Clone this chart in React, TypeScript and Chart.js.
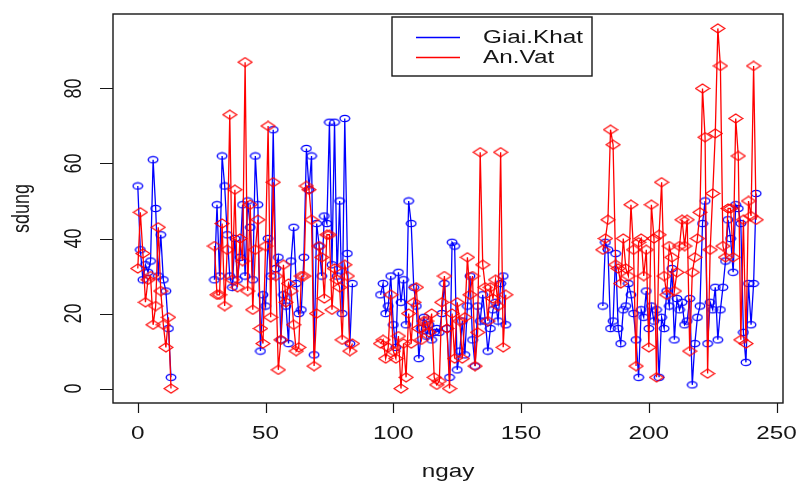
import React, { useEffect, useRef } from "react";
import { Chart, registerables } from "chart.js";

Chart.register(...registerables);

// ---- data (day index "ngay", value "sdung") ----
const segmentStarts = [0, 30, 95, 182];

const giaiKhat1 = [54, 37, 29, 33, 31, 34, 61, 48, 30, 41, 29, 26, 16, 3];
const giaiKhat2 = [29, 49, 30, 62, 54, 41, 30, 27, 40, 29, 35, 49, 30, 50, 43, 29, 62, 49, 10, 25, 22, 40, 30, 69, 32, 35, 13, 25, 22, 12, 34, 43, 28, 20, 21, 35, 64, 53, 62, 9, 44, 38, 30, 46, 44, 71, 33, 71, 30, 50, 20, 72, 36, 12, 28];
const giaiKhat3 = [25, 28, 20, 22, 30, 17, 11, 31, 23, 29, 17, 50, 44, 27, 22, 8, 16, 19, 14, 17, 13, 15, 16, 15, 20, 28, 16, 3, 39, 38, 5, 10, 18, 9, 22, 30, 13, 6, 22, 18, 25, 18, 10, 16, 21, 23, 18, 28, 30, 17];
const giaiKhat4 = [22, 39, 37, 16, 18, 36, 16, 12, 21, 22, 28, 25, 20, 13, 3, 21, 19, 26, 16, 22, 18, 21, 3, 19, 16, 26, 22, 32, 13, 24, 21, 23, 17, 18, 24, 1, 12, 19, 22, 44, 50, 12, 23, 21, 27, 13, 21, 27, 34, 45, 40, 31, 49, 48, 44, 15, 7, 28, 17, 28, 52];

const anVat1 = [32, 47, 36, 23, 29, 30, 17, 22, 43, 26, 17, 11, 19, 0];
const anVat2 = [38, 25, 25, 44, 22, 37, 73, 29, 53, 27, 40, 34, 87, 26, 49, 21, 37, 45, 16, 12, 38, 70, 19, 55, 30, 5, 13, 33, 23, 28, 26, 17, 10, 11, 30, 30, 54, 53, 45, 6, 20, 38, 35, 24, 41, 41, 21, 32, 29, 27, 13, 33, 30, 10, 12];
const anVat3 = [12, 13, 8, 11, 25, 10, 8, 14, 0, 12, 3, 20, 12, 23, 27, 16, 13, 18, 18, 15, 20, 3, 1, 2, 23, 30, 16, 0, 20, 8, 23, 18, 8, 19, 35, 25, 30, 6, 15, 63, 33, 27, 18, 27, 24, 29, 22, 63, 11, 25];
const anVat4 = [37, 40, 45, 69, 65, 33, 32, 28, 40, 32, 30, 49, 37, 6, 39, 40, 30, 37, 11, 49, 40, 3, 41, 55, 30, 25, 38, 35, 26, 31, 38, 45, 38, 45, 10, 31, 35, 40, 47, 80, 67, 4, 37, 52, 68, 96, 86, 38, 35, 48, 48, 35, 72, 62, 13, 45, 12, 50, 46, 86, 45];

const seriesNames = ["Giai.Khat", "An.Vat"];
const xTicks = [0, 50, 100, 150, 200, 250];
const yTicks = [0, 20, 40, 60, 80];
const xTitle = "ngay";
const yTitle = "sdung";

const BLUE = "#0000ff";
const RED = "#ff0000";
const INK = "#161616";
const FONT = '18px "Liberation Sans", Arial, sans-serif';
const STRETCH = 1.35;

function buildPoints(segs: number[][]) {
  const pts: { x: number; y: number | null }[] = [];
  segs.forEach((seg, si) => {
    const start = segmentStarts[si];
    if (si > 0) pts.push({ x: start - 1, y: null });
    seg.forEach((v, i) => pts.push({ x: start + i, y: v }));
  });
  return pts;
}

function makeCircle(color: string) {
  const c = document.createElement("canvas");
  c.width = 12;
  c.height = 9;
  const ctx = c.getContext("2d")!;
  ctx.strokeStyle = color;
  ctx.lineWidth = 1.3;
  ctx.beginPath();
  ctx.ellipse(6, 4.5, 4.8, 3.2, 0, 0, Math.PI * 2);
  ctx.stroke();
  return c;
}

function makeDiamond(color: string) {
  const c = document.createElement("canvas");
  c.width = 16;
  c.height = 11;
  const ctx = c.getContext("2d")!;
  ctx.strokeStyle = color;
  ctx.lineWidth = 1.2;
  ctx.beginPath();
  ctx.moveTo(8, 1);
  ctx.lineTo(15, 5.5);
  ctx.lineTo(8, 10);
  ctx.lineTo(1, 5.5);
  ctx.closePath();
  ctx.stroke();
  return c;
}

function stretchedText(ctx: CanvasRenderingContext2D, text: string, x: number, y: number, rotate: boolean, align: CanvasTextAlign = "center") {
  ctx.save();
  ctx.translate(x, y);
  ctx.scale(STRETCH, 1);
  if (rotate) ctx.rotate(-Math.PI / 2);
  ctx.textAlign = align;
  ctx.textBaseline = "middle";
  ctx.fillText(text, 0, 0);
  ctx.restore();
}

const rStylePlugin = {
  id: "rStyle",
  afterDraw(chart: any) {
    const { ctx, chartArea: a, scales } = chart;
    const xs = scales.x;
    const ys = scales.y;
    ctx.save();
    ctx.strokeStyle = INK;
    ctx.fillStyle = INK;
    ctx.lineWidth = 1.4;
    // plot box
    ctx.strokeRect(a.left, a.top, a.right - a.left, a.bottom - a.top);
    // x ticks
    ctx.lineWidth = 1.2;
    ctx.beginPath();
    xTicks.forEach((t) => {
      const px = Math.round(xs.getPixelForValue(t)) + 0.5;
      ctx.moveTo(px, a.bottom);
      ctx.lineTo(px, a.bottom + 10);
    });
    // y ticks
    yTicks.forEach((t) => {
      const py = Math.round(ys.getPixelForValue(t)) + 0.5;
      ctx.moveTo(a.left, py);
      ctx.lineTo(a.left - 13, py);
    });
    ctx.stroke();
    ctx.font = FONT;
    xTicks.forEach((t) => stretchedText(ctx, String(t), xs.getPixelForValue(t), a.bottom + 31, false));
    yTicks.forEach((t) => stretchedText(ctx, String(t), a.left - 39, ys.getPixelForValue(t), true));
    stretchedText(ctx, xTitle, (a.left + a.right) / 2, 472, false);
    stretchedText(ctx, yTitle, 22, (a.top + a.bottom) / 2, true);

    // legend
    const lx = 392, ly = 17, lw = 200, lh = 59;
    ctx.fillStyle = "#ffffff";
    ctx.fillRect(lx, ly, lw, lh);
    ctx.strokeStyle = INK;
    ctx.lineWidth = 1.4;
    ctx.strokeRect(lx, ly, lw, lh);
    const rows = [
      { name: seriesNames[0], color: BLUE, y: 37.5 },
      { name: seriesNames[1], color: RED, y: 57.5 },
    ];
    rows.forEach((r) => {
      ctx.strokeStyle = r.color;
      ctx.lineWidth = 1.3;
      ctx.beginPath();
      ctx.moveTo(416, r.y);
      ctx.lineTo(460, r.y);
      ctx.stroke();
      ctx.fillStyle = INK;
      stretchedText(ctx, r.name, 483, r.y + 1, false, "left");
    });
    ctx.restore();
  },
};

export default function App() {
  const ref = useRef<HTMLCanvasElement | null>(null);
  useEffect(() => {
    if (!ref.current) return;
    const chart = new Chart(ref.current, {
      type: "line",
      data: {
        datasets: [
          {
            label: seriesNames[0],
            data: buildPoints([giaiKhat1, giaiKhat2, giaiKhat3, giaiKhat4]) as any,
            borderColor: BLUE,
            borderWidth: 1.3,
            pointStyle: makeCircle(BLUE) as any,
            pointRadius: 3,
            spanGaps: false,
            tension: 0,
            order: 1,
          },
          {
            label: seriesNames[1],
            data: buildPoints([anVat1, anVat2, anVat3, anVat4]) as any,
            borderColor: RED,
            borderWidth: 1.3,
            pointStyle: makeDiamond(RED) as any,
            pointRadius: 3,
            spanGaps: false,
            tension: 0,
            order: 0,
          },
        ],
      },
      options: {
        responsive: false,
        animation: false,
        devicePixelRatio: 1,
        layout: { padding: { left: 113, right: 13, top: 14, bottom: 79 } },
        plugins: { legend: { display: false }, tooltip: { enabled: false }, title: { display: false } },
        scales: {
          x: { type: "linear", min: -9.7, max: 252.5, display: false },
          y: { type: "linear", min: -3.84, max: 99.84, display: false },
        },
      },
      plugins: [rStylePlugin],
    });
    return () => chart.destroy();
  }, []);
  return (
    <div style={{ position: "fixed", left: 0, top: 0, width: 796, height: 482, background: "#fff" }}>
      <canvas ref={ref} width={796} height={482} style={{ display: "block" }} />
    </div>
  );
}
